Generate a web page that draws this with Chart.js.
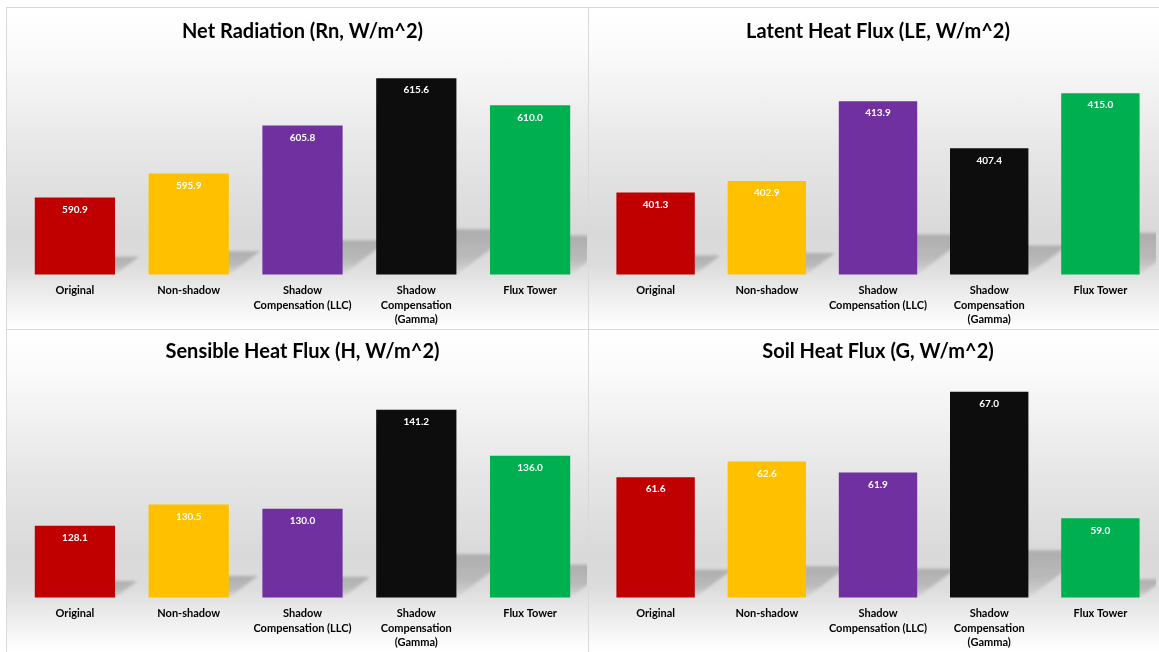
<!DOCTYPE html>
<html lang="en">
<head>
    <meta charset="UTF-8">
    <title>Energy Balance Components</title>
    <style>
        body {
            margin: 0;
            background: #ffffff;
            font-family: Lato, sans-serif;
        }
        .panel {
            position: absolute;
            box-sizing: border-box;
            border: 1px solid #d9d9d9;
            background: linear-gradient(to bottom, #ffffff 0%, #fbfbfb 12%, #e6e6e6 45%, #d9d9d9 70%, #dcdcdc 80%, #f2f2f2 92%, #ffffff 100%);
        }
        #p1 { left: 6px; top: 7px; width: 583px; height: 323px; }
        #p2 { left: 588px; top: 7px; width: 572px; height: 323px; }
        #p3 { left: 6px; top: 329px; width: 583px; height: 324px; }
        #p4 { left: 588px; top: 329px; width: 572px; height: 324px; }
    </style>
</head>
<body>
    <div class="panel" id="p1"><canvas id="c1"></canvas></div>
    <div class="panel" id="p2"><canvas id="c2"></canvas></div>
    <div class="panel" id="p3"><canvas id="c3"></canvas></div>
    <div class="panel" id="p4"><canvas id="c4"></canvas></div>

    <script src="https://cdn.jsdelivr.net/npm/chart.js"></script>
    <script>
        // categories shared by all four panels
        var categories = ['Original', 'Non-shadow', ['Shadow', 'Compensation (LLC)'], ['Shadow', 'Compensation', '(Gamma)'], 'Flux Tower'];

        var rnValues = [590.9, 595.9, 605.8, 615.6, 610.0];
        var leValues = [401.3, 402.9, 413.9, 407.4, 415.0];
        var hValues = [128.1, 130.5, 130.0, 141.2, 136.0];
        var gValues = [61.6, 62.6, 61.9, 67.0, 59.0];

        var titles = ['Net Radiation (Rn, W/m^2)', 'Latent Heat Flux (LE, W/m^2)', 'Sensible Heat Flux (H, W/m^2)', 'Soil Heat Flux (G, W/m^2)'];

        // axis limits [min, max] for each panel
        var rnRange = [575, 620];
        var leRange = [390, 420];
        var hRange = [120, 145];
        var gRange = [54, 68];

        var barColors = ['#C00000', '#FFC000', '#7030A0', '#0D0D0D', '#00B050'];

        // perspective shadow behind each bar, like the Excel effect
        var barShadow = {
            id: 'barShadow',
            beforeDatasetsDraw: function(chart) {
                var ctx = chart.ctx;
                var area = chart.chartArea;
                ctx.save();
                ctx.beginPath();
                ctx.rect(area.left, area.top, area.right - area.left, area.bottom - area.top);
                ctx.clip();
                ctx.filter = 'blur(1.5px)';
                chart.getDatasetMeta(0).data.forEach(function(bar) {
                    // bar.base is the pixel of 0, far below the axis, so use the plot floor
                    var base = Math.min(bar.base, area.bottom);
                    var h = base - bar.y;
                    var dy = h * 0.23;
                    var dx = dy * 1.35;
                    var l = bar.x - bar.width / 2;
                    var r = bar.x + bar.width / 2;
                    var grad = ctx.createLinearGradient(0, base - dy, 0, base);
                    grad.addColorStop(0, 'rgba(0, 0, 0, 0.20)');
                    grad.addColorStop(0.6, 'rgba(0, 0, 0, 0.15)');
                    grad.addColorStop(1, 'rgba(0, 0, 0, 0.03)');
                    ctx.fillStyle = grad;
                    ctx.beginPath();
                    ctx.moveTo(l, base);
                    ctx.lineTo(r, base);
                    ctx.lineTo(r + dx, base - dy);
                    ctx.lineTo(l + dx, base - dy);
                    ctx.closePath();
                    ctx.fill();
                });
                ctx.restore();
            }
        };

        // white value labels just inside the top of each bar
        var valueLabels = {
            id: 'valueLabels',
            afterDatasetsDraw: function(chart) {
                var ctx = chart.ctx;
                var values = chart.data.datasets[0].data;
                ctx.save();
                ctx.fillStyle = '#ffffff';
                ctx.font = 'bold 10px Lato';
                ctx.textAlign = 'center';
                ctx.textBaseline = 'middle';
                chart.getDatasetMeta(0).data.forEach(function(bar, i) {
                    ctx.fillText(values[i].toFixed(1), bar.x, bar.y + 12);
                });
                ctx.restore();
            }
        };

        function makeChart(id, title, values, range, isTop, rightPad) {
            var ctx = document.getElementById(id).getContext('2d');
            return new Chart(ctx, {
                type: 'bar',
                data: {
                    labels: categories,
                    datasets: [{
                        data: values,
                        backgroundColor: barColors,
                        barPercentage: 0.705,
                        categoryPercentage: 1.0
                    }]
                },
                options: {
                    responsive: true,
                    maintainAspectRatio: false,
                    animation: false,
                    layout: {
                        padding: { left: 11, right: rightPad, top: 0, bottom: -7 }
                    },
                    plugins: {
                        legend: { display: false },
                        tooltip: { enabled: false },
                        title: {
                            display: true,
                            text: title,
                            color: '#000000',
                            font: { family: 'Lato', size: 20, weight: 'bold' },
                            padding: isTop ? { top: 12, bottom: 13 } : { top: 10, bottom: 12 }
                        }
                    },
                    scales: {
                        x: {
                            grid: { display: false, drawTicks: false },
                            border: { display: false },
                            ticks: {
                                color: '#000000',
                                font: { family: 'Lato', size: 11, weight: 'bold', lineHeight: 1.32 },
                                padding: 9,
                                maxRotation: 0,
                                autoSkip: false
                            }
                        },
                        y: {
                            display: false,
                            min: range[0],
                            max: range[1]
                        }
                    }
                },
                plugins: [barShadow, valueLabels]
            });
        }

        makeChart('c1', titles[0], rnValues, rnRange, true, 1);
        makeChart('c2', titles[1], leValues, leRange, true, 3);
        makeChart('c3', titles[2], hValues, hRange, false, 1);
        makeChart('c4', titles[3], gValues, gRange, false, 3);
    </script>
</body>
</html>
